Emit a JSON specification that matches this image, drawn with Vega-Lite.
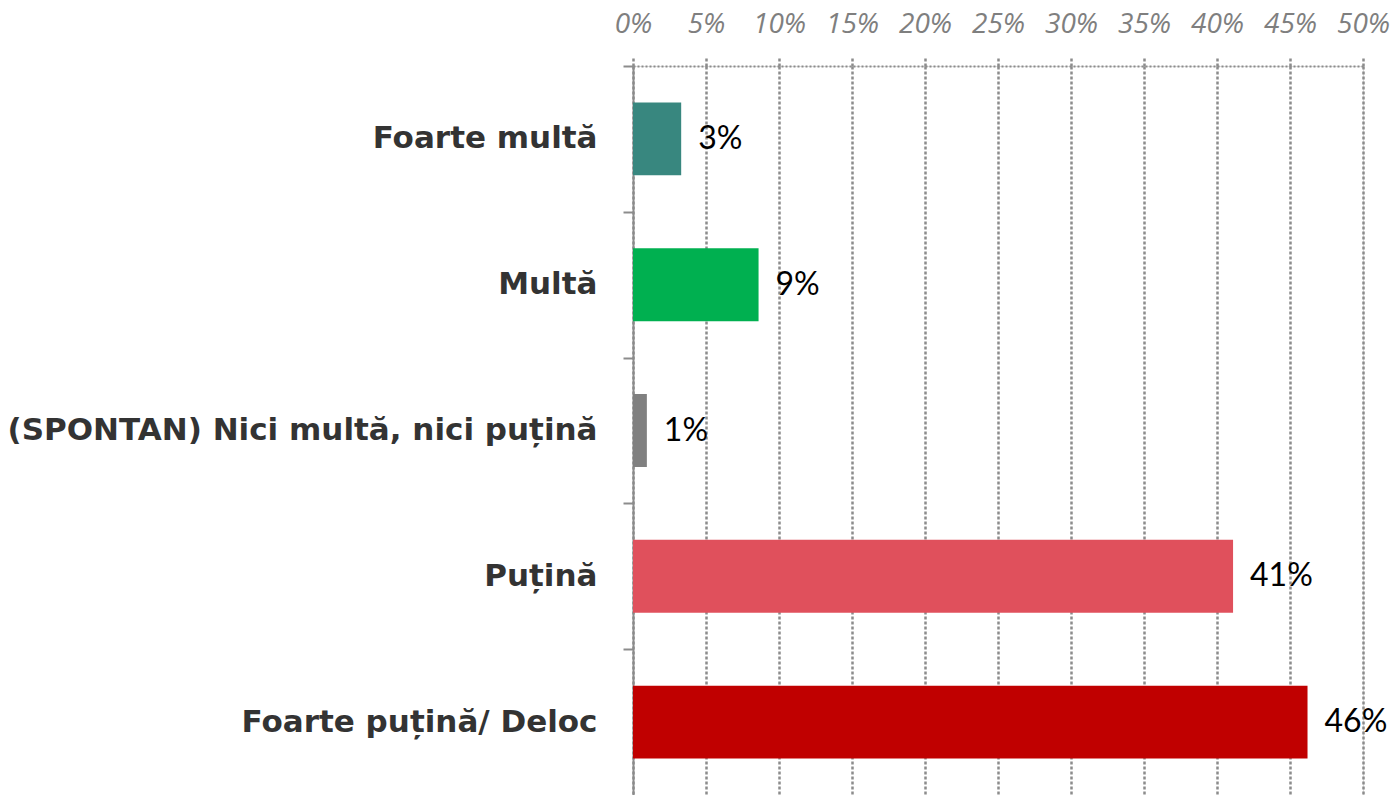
{
  "$schema": "https://vega.github.io/schema/vega-lite/v6.json",
  "autosize": "none",
  "width": 730,
  "height": 729,
  "padding": {"left": 633, "top": 66, "right": 30, "bottom": 0},
  "background": "white",
  "data": {"values": [
    {"cat": "Foarte multă", "value": 3.3, "label": "3%", "color": "#38877F"},
    {"cat": "Multă", "value": 8.6, "label": "9%", "color": "#00B050"},
    {"cat": "(SPONTAN) Nici multă, nici puțină", "value": 0.95, "label": "1%", "color": "#808080"},
    {"cat": "Puțină", "value": 41.1, "label": "41%", "color": "#E0505C"},
    {"cat": "Foarte puțină/ Deloc", "value": 46.2, "label": "46%", "color": "#C00000"}
  ]},
  "encoding": {
    "y": {
      "field": "cat", "type": "nominal", "sort": null, "title": null,
      "scale": {"paddingInner": 0.5, "paddingOuter": 0.25},
      "axis": {
        "orient": "left", "domainColor": "#8c8c8c", "domainWidth": 2,
        "tickColor": "#8c8c8c", "tickWidth": 2, "tickSize": 10, "tickOffset": -72.9, "labelOffset": 72.9,
        "labelFont": "DejaVu Sans", "labelFontWeight": "bold", "labelFontSize": 31,
        "labelColor": "#333333", "labelPadding": 26, "labelLimit": 700
      }
    }
  },
  "layer": [
    {
      "mark": {"type": "bar"},
      "encoding": {
        "x": {
          "field": "value", "type": "quantitative", "title": null,
          "scale": {"domain": [0, 50], "nice": false},
          "axis": {
            "orient": "top", "values": [0, 5, 10, 15, 20, 25, 30, 35, 40, 45, 50],
            "labelExpr": "datum.value + '%'",
            "domainColor": "#8c8c8c", "domainWidth": 2, "domainDash": [2, 2],
            "tickColor": "#8c8c8c", "tickWidth": 2.5, "tickSize": 10, "tickDash": [3, 2],
            "grid": true, "gridColor": "#8c8c8c", "gridWidth": 2.5, "gridDash": [3, 2],
            "labelFont": "Open Sans", "labelFontStyle": "italic", "labelFontSize": 28,
            "labelColor": "#7f7f7f", "labelPadding": 18, "labelFlush": false, "labelOverlap": false
          }
        },
        "color": {"field": "color", "type": "nominal", "scale": null, "legend": null}
      }
    },
    {
      "mark": {"type": "text", "align": "left", "baseline": "middle", "dx": 17, "font": "Lato", "fontSize": 32, "color": "#000000"},
      "encoding": {
        "x": {"field": "value", "type": "quantitative"},
        "text": {"field": "label"}
      }
    }
  ]
}
